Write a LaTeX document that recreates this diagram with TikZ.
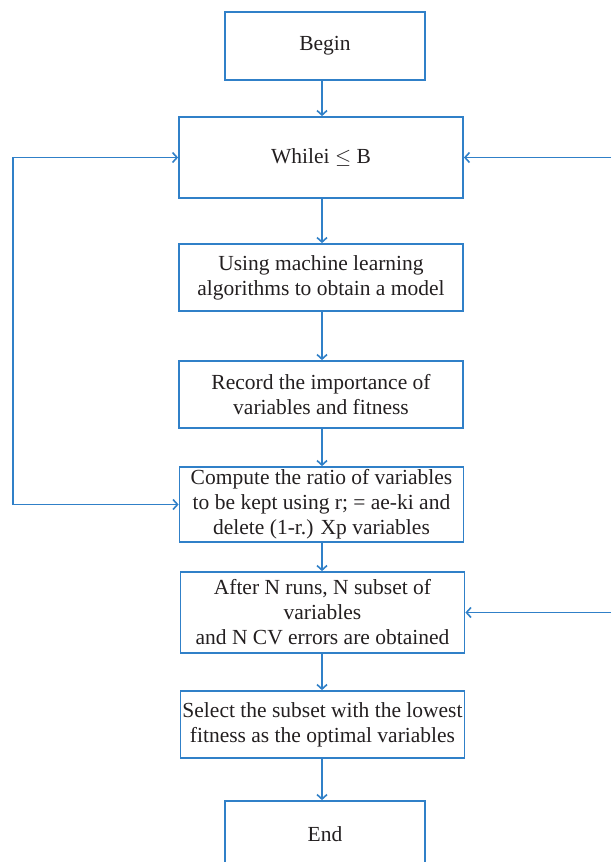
\documentclass[tikz,border=0pt]{standalone}
\usepackage{fontspec}
\setmainfont{Liberation Serif}
\usepackage{tikz}
\usetikzlibrary{arrows.meta,positioning,calc}
\definecolor{flowblue}{RGB}{48,128,200}
\definecolor{inkgray}{RGB}{35,31,32}

\begin{document}
\begin{tikzpicture}[x=1pt, y=-1pt, line width=1.6pt, draw=flowblue, >={Straight Barb[length=4.5pt,width=10pt]},
main node/.style={rectangle,draw=flowblue,line width=1.8pt,minimum width=284pt,inner sep=0pt,align=center,text=inkgray,font=\fontsize{21.5}{25}\selectfont},
end node/.style={main node,minimum width=200pt}]%flow chart
\useasboundingbox (0,0) rectangle (611,862);
\begin{scope}
\node[end node,minimum height=68pt] (begin) at (325,46) {Begin};
\node[main node,minimum height=81pt] (while) at (321,157.5) {Whilei $\leq$ B};
\node[main node,minimum height=67pt] (using) at (321,277.5) {Using machine learning\\algorithms to obtain a model};
\node[main node,minimum height=67pt] (record) at (321,394.5) {Record the importance of\\variables and fitness};
\node[main node,minimum height=75pt] (compute) at (321.5,504.5) {Compute the ratio of variables\\to be kept using r; = ae-ki and\\delete (1-r.) Xp variables};
\node[main node,minimum height=81pt] (after) at (322.5,612.5) {After N runs, N subset of\\variables\\and N CV errors are obtained};
\node[main node,minimum height=67pt] (select) at (322.5,724.5) {Select the subset with the lowest\\fitness as the optimal variables};
\node[end node,minimum height=67pt] (end) at (325,834.5) {End};
\coordinate (lft) at (13,0);
\coordinate (rgt) at (611,0);
\coordinate (mid) at (322,0);
\end{scope}
\begin{scope}[draw=flowblue]
\draw[->] (begin.south -| mid) -- (while.north -| mid);
\draw[->] (while.south -| mid) -- (using.north -| mid);
\draw[->] (using.south -| mid) -- (record.north -| mid);
\draw[->] (record.south -| mid) -- (compute.north -| mid);
\draw[->] (compute.south -| mid) -- (after.north -| mid);
\draw[->] (after.south -| mid) -- (select.north -| mid);
\draw[->] (select.south -| mid) -- (end.north -| mid);
\draw[<->] (while.west) -| (lft |- compute.west) -- (compute.west);
\draw[->] (while.east -| rgt) -- (while.east);
\draw[->] (after.east -| rgt) -- (after.east);
\end{scope}
\end{tikzpicture}
\end{document}
